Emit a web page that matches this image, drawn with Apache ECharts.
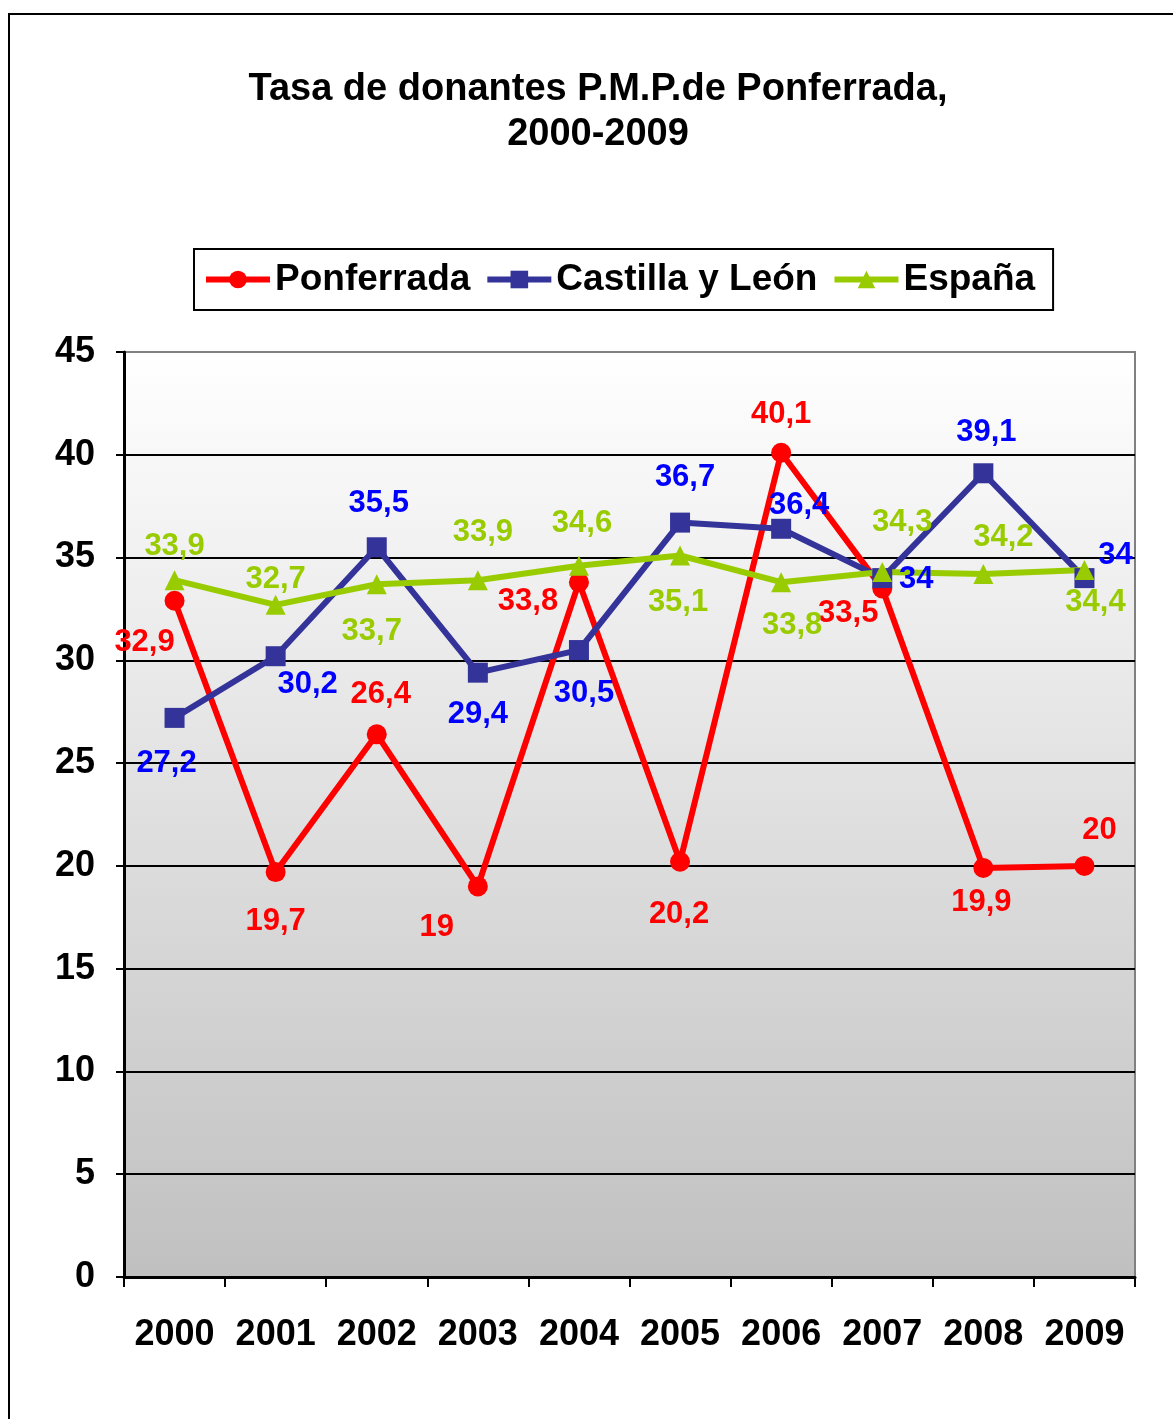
<!DOCTYPE html>
<html>
<head>
<meta charset="utf-8">
<script src="https://cdn.jsdelivr.net/npm/echarts@6/dist/echarts.min.js"></script>
<style>
  html, body { margin: 0; padding: 0; background: #fff; }
  #chart { width: 1173px; height: 1419px; }
</style>
</head>
<body>
<div id="chart"></div>
<script>
// datos
const years = ['2000', '2001', '2002', '2003', '2004', '2005', '2006', '2007', '2008', '2009']
const ponferrada = [32.9, 19.7, 26.4, 19, 33.8, 20.2, 40.1, 33.5, 19.9, 20]
const castilla = [27.2, 30.2, 35.5, 29.4, 30.5, 36.7, 36.4, 34, 39.1, 34]
const espana = [33.9, 32.7, 33.7, 33.9, 34.6, 35.1, 33.8, 34.3, 34.2, 34.4]
const yTicks = [0, 5, 10, 15, 20, 25, 30, 35, 40, 45]

// desplazamiento de cada etiqueta respecto a su punto (px)
const ponfOffsets = [[-30, 39], [0, 46], [4, -43], [-41, 38], [-51, 16], [-1, 50], [0, -41], [-34, 22], [-2, 32], [15, -38]]
const castOffsets = [[-8, 43], [32, 25], [2, -47], [0, 39], [5, 40], [5, -48], [18, -26], [34, -2], [3, -44], [31, -26]]
const espOffsets = [[0, -37], [0, -28], [-5, 44], [5, -51], [3, -45], [-2, 44], [11, 40], [20, -52], [20, -40], [11, 30]]

const FONT = '"Liberation Sans", Arial, sans-serif'

function withLabels (values, offsets) {
  return values.map((v, i) => ({
    value: v,
    label: { offset: [offsets[i][0], offsets[i][1] + 3] }
  }))
}

function makeSeries (name, values, offsets, lineColor, labelColor, symbol) {
  return {
    name: name,
    type: 'line',
    data: withLabels(values, offsets),
    symbol: symbol,
    symbolSize: 20,
    lineStyle: { color: lineColor, width: 6 },
    itemStyle: { color: lineColor },
    label: {
      show: true,
      position: 'inside',
      align: 'center',
      verticalAlign: 'middle',
      color: labelColor,
      fontFamily: FONT,
      fontWeight: 'bold',
      fontSize: 31,
      formatter: p => String(p.value).replace('.', ',')
    },
    emphasis: { disabled: true },
    animation: false
  }
}

const chart = echarts.init(document.getElementById('chart'), null, { renderer: 'canvas' })

const option = {
  backgroundColor: '#fff',
  animation: false,
  title: {
    text: 'Tasa de donantes P.M.P.de Ponferrada,\n2000-2009',
    left: 593,
    textAlign: 'center',
    top: 62,
    textStyle: {
      fontFamily: FONT,
      fontWeight: 'bold',
      fontSize: 38,
      lineHeight: 45,
      color: '#000'
    }
  },
  legend: {
    left: 194,
    top: 249,
    padding: [12, 18, 12, 9],
    itemWidth: 64,
    itemHeight: 22,
    itemGap: 14,
    borderColor: '#000',
    borderWidth: 2,
    backgroundColor: '#fff',
    lineStyle: { width: 6 },
    textStyle: {
      fontFamily: FONT,
      fontWeight: 'bold',
      fontSize: 37,
      color: '#000'
    }
  },
  grid: {
    left: 124,
    right: 38,
    top: 352,
    bottom: 142,
    show: true,
    borderColor: '#808080',
    borderWidth: 2,
    backgroundColor: new echarts.graphic.LinearGradient(0, 0, 0, 1, [
      { offset: 0, color: '#ffffff' },
      { offset: 1, color: '#c0c0c0' }
    ])
  },
  xAxis: {
    type: 'category',
    data: years,
    boundaryGap: true,
    axisLine: { show: true, lineStyle: { color: '#000', width: 3 } },
    axisTick: { show: true, interval: 0, length: 10, lineStyle: { color: '#000', width: 2 } },
    axisLabel: {
      interval: 0,
      margin: 40,
      color: '#000',
      fontFamily: FONT,
      fontWeight: 'bold',
      fontSize: 36
    },
    splitLine: { show: false }
  },
  yAxis: {
    type: 'value',
    min: yTicks[0],
    max: yTicks[yTicks.length - 1],
    interval: 5,
    axisLine: { show: true, lineStyle: { color: '#000', width: 3 } },
    axisTick: { show: true, length: 8, lineStyle: { color: '#000', width: 2 } },
    axisLabel: {
      margin: 29,
      color: '#000',
      fontFamily: FONT,
      fontWeight: 'bold',
      fontSize: 36
    },
    splitLine: { show: true, showMaxLine: false, lineStyle: { color: '#000', width: 2 } }
  },
  graphic: [{
    type: 'rect',
    shape: { x: 9, y: 14, width: 1300, height: 1500 },
    style: { fill: 'none', stroke: '#000', lineWidth: 2 },
    silent: true
  }],
  series: [
    makeSeries('Ponferrada', ponferrada, ponfOffsets, '#ff0000', '#ff0000', 'circle'),
    makeSeries('Castilla y León', castilla, castOffsets, '#333399', '#0000ff', 'rect'),
    makeSeries('España', espana, espOffsets, '#99cc00', '#99cc00', 'triangle')
  ]
}

chart.setOption(option)
</script>
</body>
</html>
